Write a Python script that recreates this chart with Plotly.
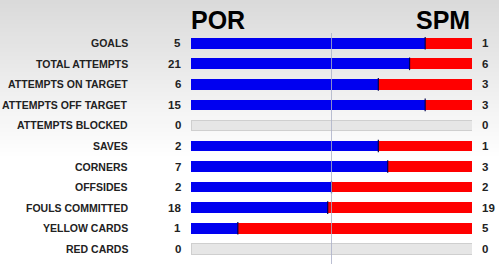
import plotly.graph_objects as go

categories = ["GOALS", "TOTAL ATTEMPTS", "ATTEMPTS ON TARGET", "ATTEMPTS OFF TARGET",
              "ATTEMPTS BLOCKED", "SAVES", "CORNERS", "OFFSIDES", "FOULS COMMITTED",
              "YELLOW CARDS", "RED CARDS"]
por = [5, 21, 6, 15, 0, 2, 7, 2, 18, 1, 0]
spm = [1, 6, 3, 3, 0, 1, 3, 2, 19, 5, 0]
team_left = "POR"
team_right = "SPM"

W, H = 499, 264
ML, MR, MT, MB = 191, 27, 33, 5
PH = H - MT - MB

tot = [a + b for a, b in zip(por, spm)]
fr_por = [a / t if t else 0 for a, t in zip(por, tot)]
fr_spm = [b / t if t else 0 for b, t in zip(spm, tot)]
fr_empty = [0 if t else 1 for t in tot]

fig = go.Figure()
fig.add_bar(y=categories, x=fr_por, orientation="h", marker=dict(color="#0000f0", line=dict(width=0)),
            width=0.52, hoverinfo="skip")
fig.add_bar(y=categories, x=fr_spm, orientation="h", marker=dict(color="#ff0000", line=dict(width=0)),
            width=0.52, hoverinfo="skip")
fig.add_bar(y=categories, x=fr_empty, orientation="h",
            marker=dict(color="#e6e6e6", line=dict(color="#cfcfcf", width=1)),
            width=0.52, hoverinfo="skip")

# dividers between blue and red
div_x = [f for f, t, a, b in zip(fr_por, tot, por, spm) if t and a and b]
div_y = [c for c, t, a, b in zip(categories, tot, por, spm) if t and a and b]
fig.add_scatter(x=div_x, y=div_y, mode="markers",
                marker=dict(symbol="line-ns", size=9, line=dict(color="#000050", width=1.2)),
                hoverinfo="skip")

shapes = []
# background gradient
N = 40
for i in range(N):
    py0 = i * 4
    py1 = py0 + 4
    v = int(round(218 + (255 - 218) * (i / (N - 1))))
    col = f"rgb({v},{v},{v})"
    shapes.append(dict(type="rect", xref="paper", yref="paper", layer="below",
                       x0=-ML / (W - ML - MR) - 0.01, x1=1 + MR / (W - ML - MR) + 0.01,
                       y0=(H - MB - py1) / PH, y1=(H - MB - py0) / PH,
                       fillcolor=col, line=dict(width=0)))
# center line
shapes.append(dict(type="line", xref="x", yref="paper", x0=0.5, x1=0.5,
                   y0=-MB / PH - 0.01, y1=1.0, layer="above",
                   line=dict(color="rgba(170,175,200,0.8)", width=1)))

ann = []
font_lbl = dict(family="Liberation Sans, Arial", size=10.5, color="#222222")
font_val = dict(family="Liberation Sans, Arial", size=11.5, color="#222222")
for c, a, b in zip(categories, por, spm):
    ann.append(dict(x=(130 - ML) / (W - ML - MR), y=c, xref="paper", yref="y", text=f"<b>{c}</b>",
                    xanchor="right", yanchor="middle", showarrow=False, font=font_lbl))
    ann.append(dict(x=(183 - ML) / (W - ML - MR), y=c, xref="paper", yref="y", text=f"<b>{a}</b>",
                    xanchor="right", yanchor="middle", showarrow=False, font=font_val))
    ann.append(dict(x=(480 - ML) / (W - ML - MR), y=c, xref="paper", yref="y", text=f"<b>{b}</b>",
                    xanchor="left", yanchor="middle", showarrow=False, font=font_val))
font_t = dict(family="Liberation Sans, Arial", size=25, color="#000000")
ann.append(dict(x=(189 - ML) / (W - ML - MR), y=(H - MB - 20) / PH, xref="paper", yref="paper",
                text=f"<b>{team_left}</b>", xanchor="left", yanchor="middle", showarrow=False, font=font_t))
ann.append(dict(x=(472 - ML) / (W - ML - MR), y=(H - MB - 20) / PH, xref="paper", yref="paper",
                text=f"<b>{team_right}</b>", xanchor="right", yanchor="middle", showarrow=False, font=font_t))

fig.update_layout(
    width=W, height=H, margin=dict(l=ML, r=MR, t=MT, b=MB),
    barmode="stack", showlegend=False,
    paper_bgcolor="white", plot_bgcolor="rgba(0,0,0,0)",
    xaxis=dict(range=[0, 1], visible=False, fixedrange=True),
    yaxis=dict(categoryorder="array", categoryarray=categories[::-1], range=[-0.5, len(categories) - 0.5],
               visible=False, fixedrange=True),
    shapes=shapes, annotations=ann,
)
fig.write_html("out.html", config={"displayModeBar": False})
